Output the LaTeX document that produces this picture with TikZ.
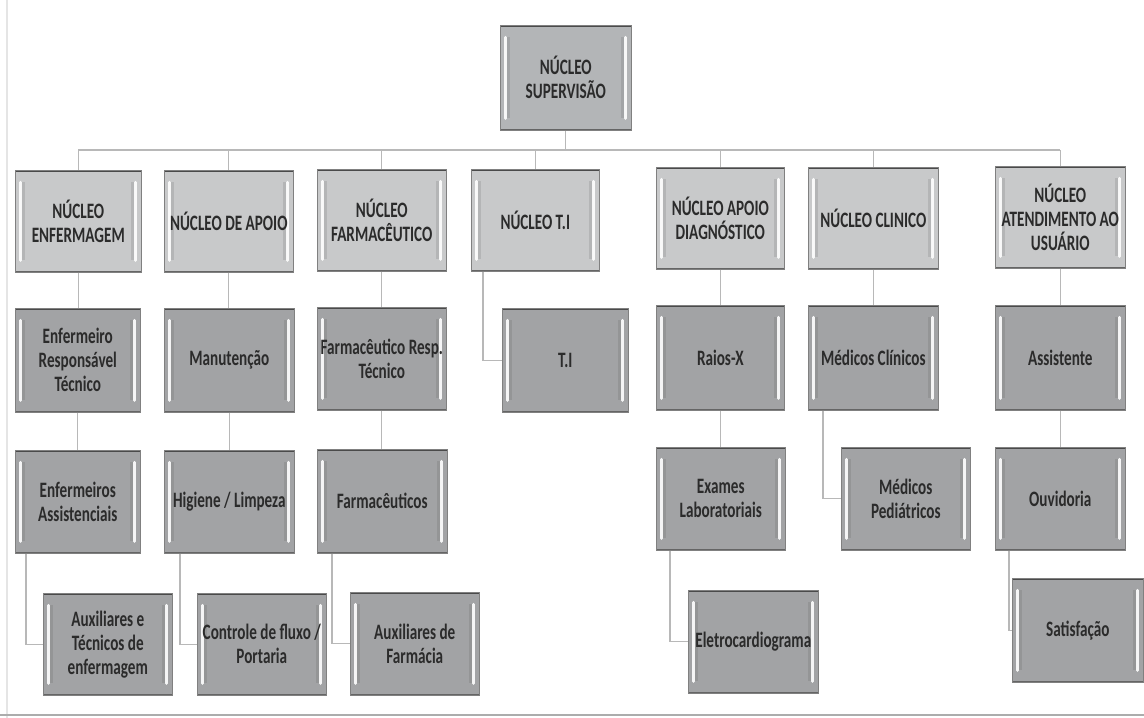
\documentclass[tikz,border=0pt]{standalone}
\usepackage{fontspec}
\newfontfamily\boxfont[FakeStretch=0.69]{Carlito}
\definecolor{lightbox}{HTML}{C8C9CA}
\definecolor{topbox}{HTML}{B3B5B7}
\definecolor{darkbox}{HTML}{A2A3A5}
\definecolor{edge}{HTML}{4A4A4A}
\definecolor{conn}{HTML}{B8B8B8}
\definecolor{txt}{HTML}{2B2B2B}
\tikzset{
  orgbox/.style={rectangle, anchor=north west, draw=edge!70, line width=0.6pt,
    inner sep=2pt, align=center, text=txt,
    font=\boxfont\bfseries\fontsize{22}{24}\selectfont,
    path picture={
      \draw[edge, line width=2.4pt] (path picture bounding box.north west) -- (path picture bounding box.north east);
      \draw[edge!85, line width=2.4pt] (path picture bounding box.south west) -- (path picture bounding box.south east);
      \draw[gray!55!black, line width=4pt, opacity=.15] ([xshift=8pt,yshift=-12pt]path picture bounding box.north west) -- ([xshift=8pt,yshift=12pt]path picture bounding box.south west);
      \draw[gray!55!black, line width=4pt, opacity=.15] ([xshift=-8pt,yshift=-12pt]path picture bounding box.north east) -- ([xshift=-8pt,yshift=12pt]path picture bounding box.south east);
      \draw[white, line width=3pt, line cap=round, opacity=.9] ([xshift=5.5pt,yshift=-12pt]path picture bounding box.north west) -- ([xshift=5.5pt,yshift=12pt]path picture bounding box.south west);
      \draw[white, line width=3pt, line cap=round, opacity=.9] ([xshift=-5.5pt,yshift=-12pt]path picture bounding box.north east) -- ([xshift=-5.5pt,yshift=12pt]path picture bounding box.south east);
    }},
  headbox/.style={orgbox, fill=lightbox},
  supbox/.style={orgbox, fill=topbox},
  subbox/.style={orgbox, fill=darkbox},
  link/.style={draw=conn, line width=1.2pt},
  dim/.style 2 args={minimum width=#1pt, minimum height=#2pt}
}
\begin{document}
\begin{tikzpicture}[x=1pt, y=-1pt]
\useasboundingbox (0,0) rectangle (1144,718);
\fill[white] (0,0) rectangle (1144,718);
\draw[gray!20, line width=1.5pt] (7,0) -- (7,718);
\draw[gray!65, line width=2pt] (0,715) -- (1144,715);

% top
\node[supbox, dim={131}{105}] (sup) at (500,25) {NÚCLEO\\SUPERVISÃO};

% row 1
\node[headbox, dim={126}{102}] (enf) at (15,170) {NÚCLEO\\ENFERMAGEM};
\node[headbox, dim={129}{102}] (apo) at (164,170) {NÚCLEO DE APOIO};
\node[headbox, dim={129}{102}] (far) at (317,169) {NÚCLEO\\FARMACÊUTICO};
\node[headbox, dim={128}{102}] (ti) at (471,169) {NÚCLEO T.I};
\node[headbox, dim={128}{102}] (dia) at (656,167) {NÚCLEO APOIO\\DIAGNÓSTICO};
\node[headbox, dim={130}{102}] (cli) at (808,167) {NÚCLEO CLINICO};
\node[headbox, dim={130}{102}] (ate) at (995,166) {NÚCLEO\\ATENDIMENTO AO\\USUÁRIO};

% row 2
\node[subbox, dim={125}{104}] (enfrt) at (15,308) {Enfermeiro\\Responsável\\Técnico};
\node[subbox, dim={130}{104}] (man) at (164,308) {Manutenção};
\node[subbox, dim={129}{103}] (farrt) at (317,307) {Farmacêutico Resp.\\Técnico};
\node[subbox, dim={126}{104}] (tib) at (502,308) {T.I};
\node[subbox, dim={128}{105}] (rx) at (656,305) {Raios-X};
\node[subbox, dim={130}{105}] (mc) at (808,305) {Médicos Clínicos};
\node[subbox, dim={130}{105}] (ass) at (995,305) {Assistente};

% row 3
\node[subbox, dim={125}{103}] (enfa) at (15,450) {Enfermeiros\\Assistenciais};
\node[subbox, dim={130}{103}] (hig) at (164,450) {Higiene / Limpeza};
\node[subbox, dim={130}{104}] (farm) at (317,449) {Farmacêuticos};
\node[subbox, dim={129}{103}] (exa) at (656,447) {Exames\\Laboratoriais};
\node[subbox, dim={129}{103}] (mp) at (841,447) {Médicos\\Pediátricos};
\node[subbox, dim={130}{103}] (ouv) at (995,447) {Ouvidoria};

% row 4
\node[subbox, dim={129}{102}] (aux) at (43,593) {Auxiliares e\\Técnicos de\\enfermagem};
\node[subbox, dim={129}{102}] (con) at (197,593) {Controle de fluxo /\\Portaria};
\node[subbox, dim={129}{103}] (auxf) at (350,592) {Auxiliares de\\Farmácia};
\node[subbox, dim={130}{103}] (ele) at (688,590) {Eletrocardiograma};
\node[subbox, dim={131}{104}] (sat) at (1012,578) {Satisfação};

% bus
\coordinate (bus) at (0,150);
\draw[link] (sup.south) -- (sup.south |- bus);
\draw[link] (enf.north |- bus) -- (ate.north |- bus);
\foreach \n in {enf,apo,far,ti,dia,cli,ate}{
  \draw[link] (\n.north) -- (\n.north |- bus);
}
% vertical chains
\draw[link] (enf.south) -- (enf.south |- enfrt.north);
\draw[link] (apo.south) -- (apo.south |- man.north);
\draw[link] (far.south) -- (far.south |- farrt.north);
\draw[link] (dia.south) -- (dia.south |- rx.north);
\draw[link] (cli.south) -- (cli.south |- mc.north);
\draw[link] (ate.south) -- (ate.south |- ass.north);
\draw[link] (enfrt.south) -- (enfrt.south |- enfa.north);
\draw[link] (man.south) -- (man.south |- hig.north);
\draw[link] (farrt.south) -- (farrt.south |- farm.north);
\draw[link] (rx.south) -- (rx.south |- exa.north);
\draw[link] (ass.south) -- (ass.south |- ouv.north);
% elbows
\draw[link] (ti.south west) ++(12,0) |- (tib.west);
\draw[link] (mc.south west) ++(15,0) |- (mp.west);
\draw[link] (enfa.south west) ++(11,0) |- (aux.west);
\draw[link] (hig.south west) ++(16,0) |- (con.west);
\draw[link] (farm.south west) ++(15,0) |- (auxf.west);
\draw[link] (exa.south west) ++(14,0) |- (ele.west);
\draw[link] (ouv.south west) ++(14,0) |- (sat.west);
\end{tikzpicture}
\end{document}
